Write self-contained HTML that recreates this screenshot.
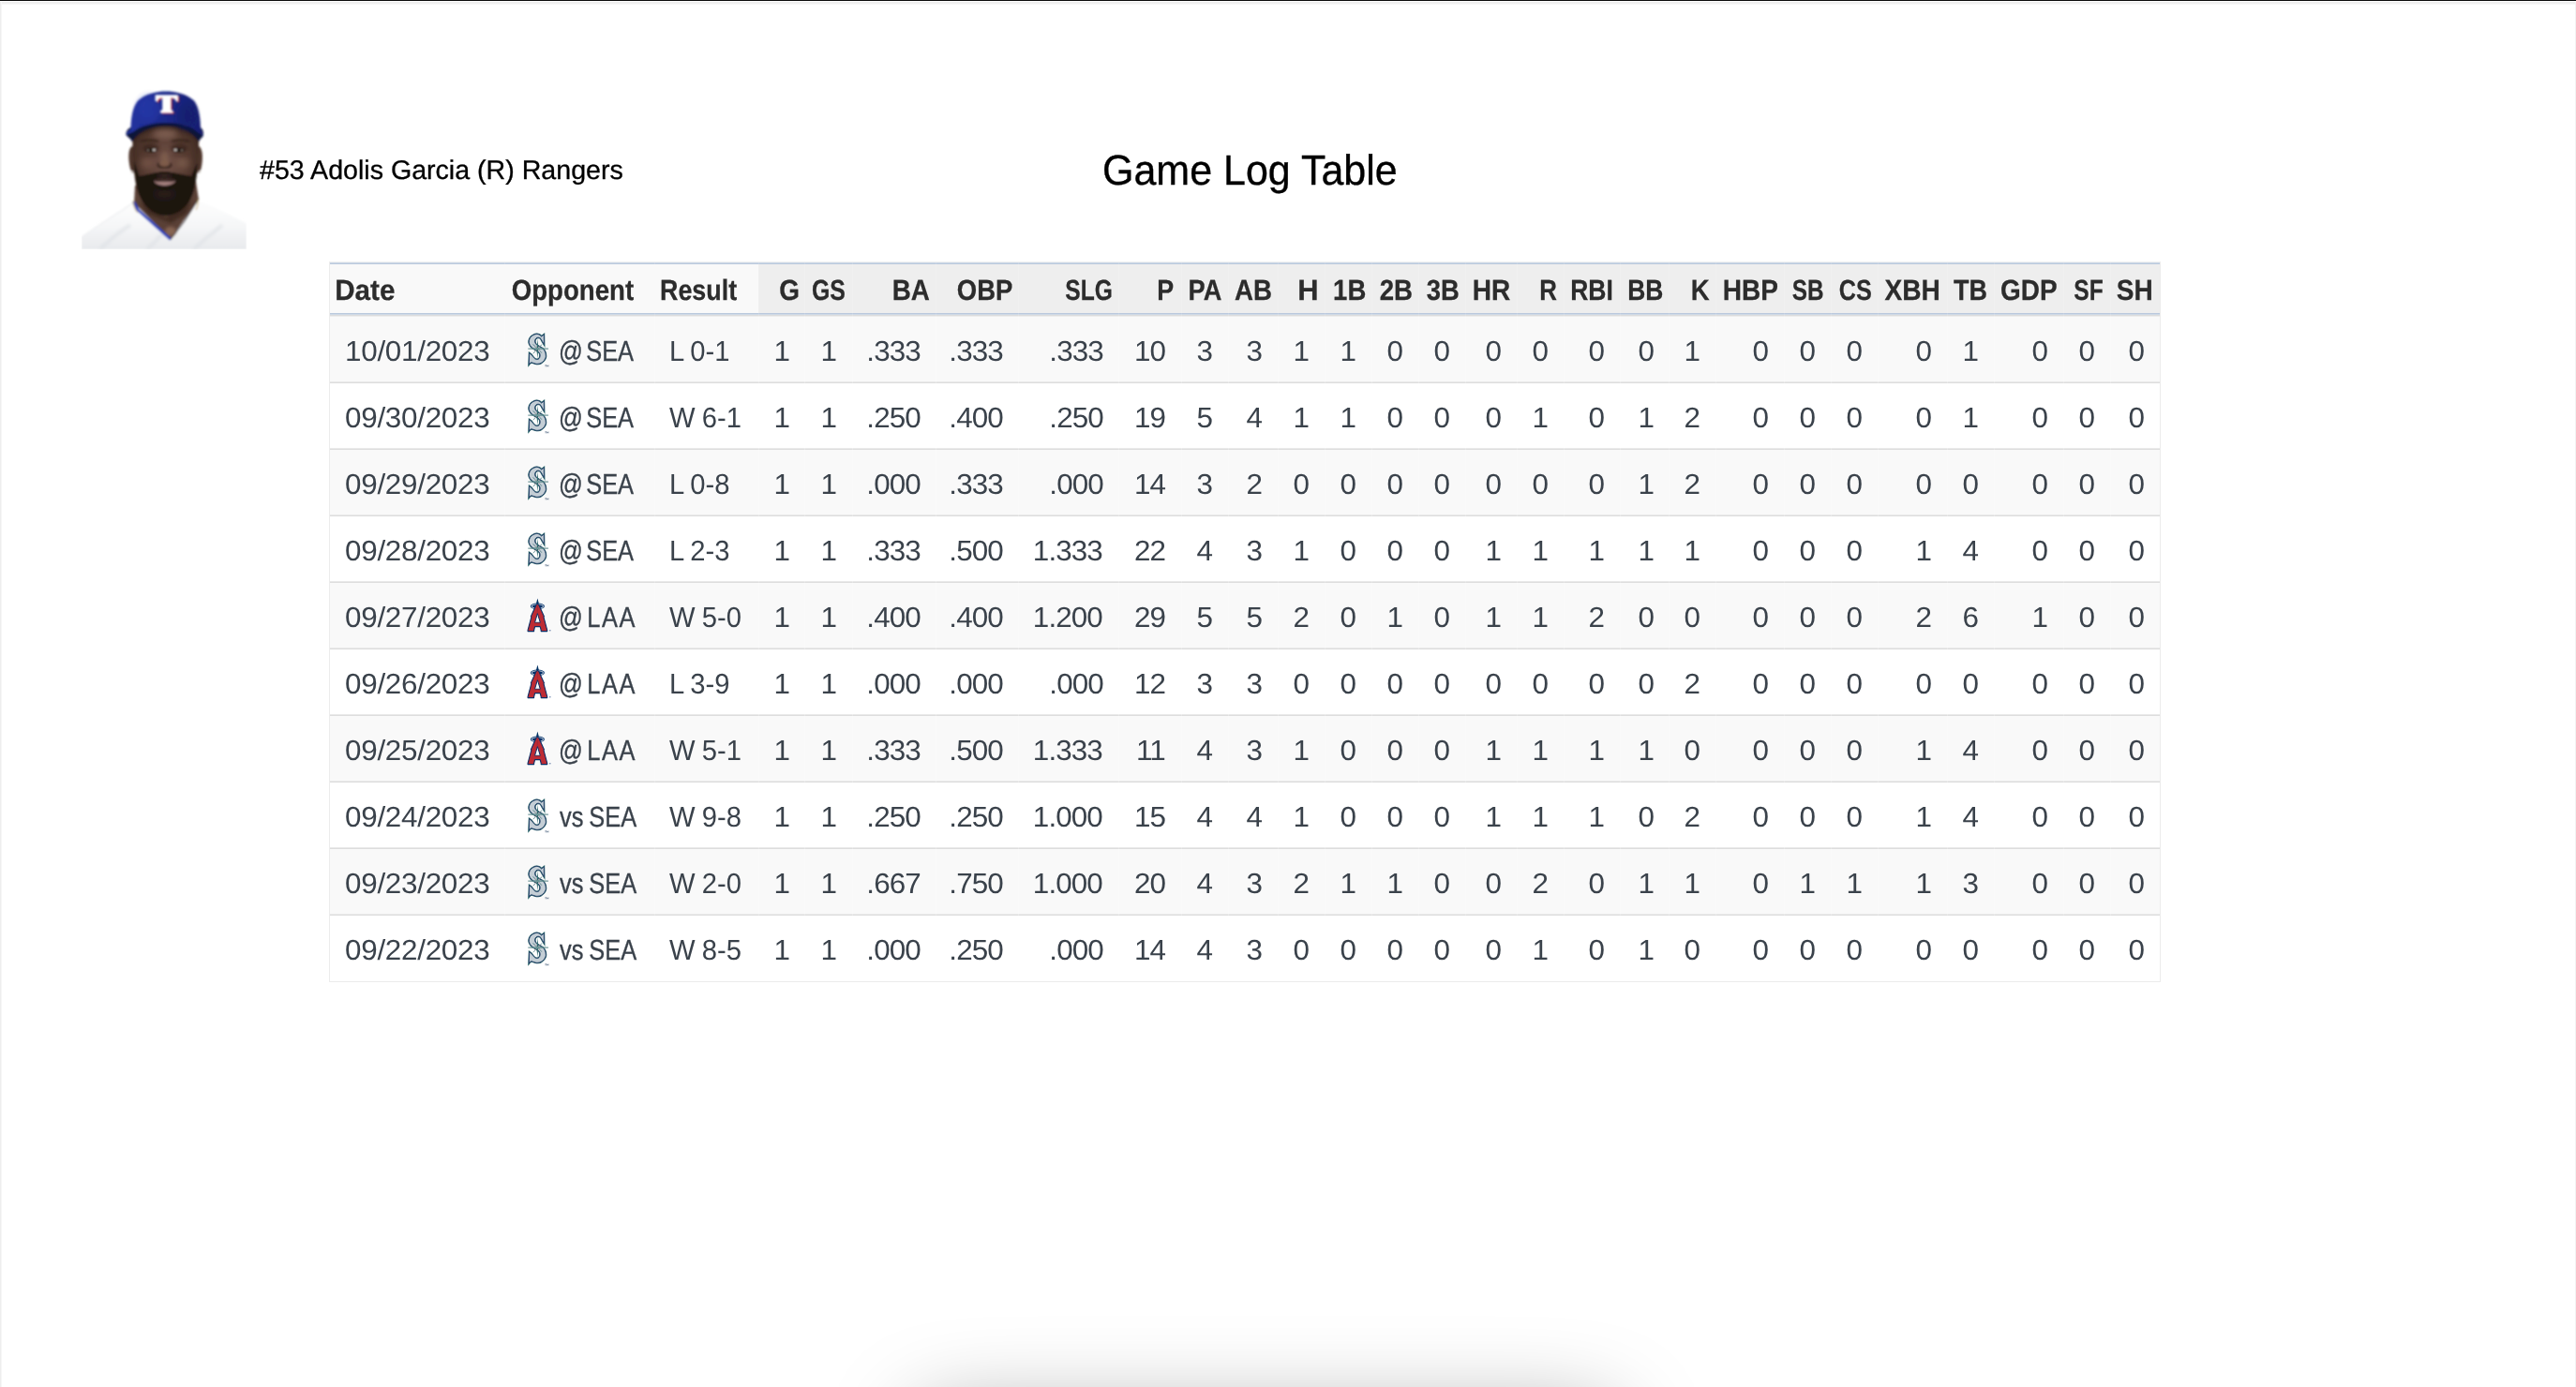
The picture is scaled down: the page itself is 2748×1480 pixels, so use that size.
<!DOCTYPE html>
<html lang="en">
<head>
<meta charset="utf-8">
<title>Game Log Table</title>
<style>
html,body{margin:0;padding:0;background:#fff;}
body{will-change:transform;text-rendering:geometricPrecision;width:2748px;height:1480px;position:relative;overflow:hidden;font-family:"Liberation Sans",sans-serif;}
.topbar{position:absolute;left:0;top:0;width:2748px;height:1px;background:#0b0b0b;}
.topgray{position:absolute;left:0;top:2px;width:2748px;height:3px;background:linear-gradient(#eeeeee,#f1f1f1 60%,#fafafa);}
.leftgray{position:absolute;left:0;top:2px;width:2px;height:1478px;background:linear-gradient(90deg,#eeeeee 0,#eeeeee 1px,#f6f6f6 1px,#f6f6f6 2px);}
.rightgray{position:absolute;left:2747px;top:2px;width:1px;height:1478px;background:#f2f2f2;}
.photo{position:absolute;left:87px;top:90px;width:176px;height:176px;}
.player{-webkit-text-stroke:0.3px #000;position:absolute;left:277px;top:164.5px;font-size:28.6px;line-height:34px;color:#000;white-space:nowrap;}
.title{-webkit-text-stroke:0.35px #000;position:absolute;left:1176px;top:157px;margin:0;font-size:43px;line-height:52px;transform:scaleY(1.05);transform-origin:left 40px;font-weight:normal;color:#000;white-space:nowrap;}
.tablewrap{position:absolute;left:351px;top:279px;width:1952px;border:1px solid #ececec;border-top-color:#f0f0f0;}
table.log{border-collapse:separate;border-spacing:0;table-layout:fixed;width:1952px;}
.log th,.log td{padding:0;margin:0;white-space:nowrap;overflow:visible;box-sizing:border-box;border-left:1px solid rgba(255,255,255,.22);}
.log th:first-child,.log td:first-child{border-left:0;}
.log th{-webkit-text-stroke:0.25px #2c2c2c;border-left-color:rgba(255,255,255,.12);height:58px;font-size:30.8px;font-weight:bold;color:#2c2c2c;vertical-align:top;
 background:linear-gradient(#ccd7e6 0,#ccd7e6 1px,#bac9dd 1px,#bac9dd 2px,#eeeeee 2px,#eeeeee 54px,#bac9dd 54px,#bac9dd 55px,#ced9e6 55px,#ced9e6 56px,#dcdcdc 56px,#dcdcdc 57px,#ececec 57px,#ececec 58px);}
.log th.l{text-align:left;padding-left:6px;
 background:linear-gradient(#ccd7e6 0,#ccd7e6 1px,#bac9dd 1px,#bac9dd 2px,#f9f9f9 2px,#f9f9f9 54px,#bac9dd 54px,#bac9dd 55px,#ced9e6 55px,#ced9e6 56px,#dcdcdc 56px,#dcdcdc 57px,#ececec 57px,#ececec 58px);}
.log th.n{text-align:right;padding-right:7px;}
.log th span{display:inline-block;line-height:34px;margin-top:13px;transform-origin:right center;}
.log th.l span{transform-origin:left center;}
.log td{height:71px;font-size:30.5px;color:#3a424b;vertical-align:top;
 background:linear-gradient(#f9f9f9 0,#f9f9f9 69px,#e9e9e9 69px,#e9e9e9 70px,#dddddd 70px,#dddddd 71px);}
.log tr:nth-child(even) td{background:linear-gradient(#ffffff 0,#ffffff 69px,#e9e9e9 69px,#e9e9e9 70px,#dddddd 70px,#dddddd 71px);}
.log tr:last-child td{height:70px;background:#ffffff;}
.log td span{display:inline-block;line-height:34px;margin-top:20px;transform:scaleX(1.03);transform-origin:right center;}
.log td.n{text-align:right;padding-right:16.7px;letter-spacing:-0.9px;}
.log td.date{padding-left:16px;letter-spacing:-0.27px;}
.log td.date span{transform-origin:left center;}
.log td.res{padding-left:15px;word-spacing:-1px;}
.log td.res span{transform:scaleX(0.957);transform-origin:left center;}
.log td.opp{padding-left:14px;position:relative;}
.log td.opp .lg{position:absolute;left:15.8px;top:12px;}
.log td.opp span{-webkit-text-stroke:0.35px #3a424b;margin-left:43px;transform:scaleX(0.833);transform-origin:left center;word-spacing:-4.4px;}
.log td.opp.vs span{word-spacing:-1.4px;margin-left:43.5px;}
.log td.opp.laa span{letter-spacing:2.0px;word-spacing:-7.2px;}
.shadow{position:absolute;left:978px;top:1508px;width:746px;height:120px;border-radius:30px;box-shadow:0 0 94px 0 rgba(0,0,0,.36);}
</style>
</head>
<body>
<svg width="0" height="0" style="position:absolute"><defs>
<g id="lgS"><g transform="translate(0.55 1.49) scale(0.924)">
<path d="M26.7 6.0L23.9 8.2C23.50 7.87 22.38 6.68 21.50 6.20C20.62 5.72 19.77 5.25 18.60 5.30C17.43 5.35 15.77 5.80 14.50 6.50C13.23 7.20 11.83 8.37 11.00 9.50C10.17 10.63 9.68 12.08 9.50 13.30C9.32 14.52 9.52 15.72 9.90 16.80C10.28 17.88 10.98 18.90 11.80 19.80C12.62 20.70 13.67 21.42 14.80 22.20C15.93 22.98 17.52 23.73 18.60 24.50C19.68 25.27 20.68 25.97 21.30 26.80C21.92 27.63 22.22 28.55 22.30 29.50C22.38 30.45 22.13 31.70 21.80 32.50C21.47 33.30 20.87 33.93 20.30 34.30C19.73 34.67 19.08 34.78 18.40 34.70C17.72 34.62 16.93 34.33 16.20 33.80C15.47 33.27 14.70 32.30 14.00 31.50C13.30 30.70 12.68 29.67 12.00 29.00C11.32 28.33 10.29 27.75 9.95 27.50L9.45 40.6C9.79 40.22 10.74 38.63 11.50 38.30C12.26 37.97 13.08 38.38 14.00 38.60C14.92 38.82 16.02 39.40 17.00 39.60C17.98 39.80 18.82 39.93 19.90 39.80C20.98 39.67 22.35 39.43 23.50 38.80C24.65 38.17 25.93 37.05 26.80 36.00C27.67 34.95 28.35 33.52 28.70 32.50C29.05 31.48 28.97 30.90 28.90 29.90C28.83 28.90 28.65 27.52 28.30 26.50C27.95 25.48 27.37 24.58 26.80 23.80C26.23 23.02 25.78 22.45 24.90 21.80C24.02 21.15 22.55 20.53 21.50 19.90C20.45 19.27 19.38 18.68 18.60 18.00C17.82 17.32 17.18 16.53 16.80 15.80C16.42 15.07 16.27 14.37 16.30 13.60C16.33 12.83 16.57 11.87 17.00 11.20C17.43 10.53 18.18 9.87 18.90 9.60C19.62 9.33 20.58 9.38 21.30 9.60C22.02 9.82 22.62 10.20 23.20 10.90C23.78 11.60 24.18 12.75 24.80 13.80C25.42 14.85 26.55 16.63 26.90 17.20Z" fill="#c4ced5" stroke="#1d5a60" stroke-width="2.1" stroke-linejoin="miter"/>
<path d="M26.7 6.0L23.9 8.2C23.50 7.87 22.38 6.68 21.50 6.20C20.62 5.72 19.77 5.25 18.60 5.30C17.43 5.35 15.77 5.80 14.50 6.50C13.23 7.20 11.83 8.37 11.00 9.50C10.17 10.63 9.68 12.08 9.50 13.30C9.32 14.52 9.52 15.72 9.90 16.80C10.28 17.88 10.98 18.90 11.80 19.80C12.62 20.70 13.67 21.42 14.80 22.20C15.93 22.98 17.52 23.73 18.60 24.50C19.68 25.27 20.68 25.97 21.30 26.80C21.92 27.63 22.22 28.55 22.30 29.50C22.38 30.45 22.13 31.70 21.80 32.50C21.47 33.30 20.87 33.93 20.30 34.30C19.73 34.67 19.08 34.78 18.40 34.70C17.72 34.62 16.93 34.33 16.20 33.80C15.47 33.27 14.70 32.30 14.00 31.50C13.30 30.70 12.68 29.67 12.00 29.00C11.32 28.33 10.29 27.75 9.95 27.50L9.45 40.6C9.79 40.22 10.74 38.63 11.50 38.30C12.26 37.97 13.08 38.38 14.00 38.60C14.92 38.82 16.02 39.40 17.00 39.60C17.98 39.80 18.82 39.93 19.90 39.80C20.98 39.67 22.35 39.43 23.50 38.80C24.65 38.17 25.93 37.05 26.80 36.00C27.67 34.95 28.35 33.52 28.70 32.50C29.05 31.48 28.97 30.90 28.90 29.90C28.83 28.90 28.65 27.52 28.30 26.50C27.95 25.48 27.37 24.58 26.80 23.80C26.23 23.02 25.78 22.45 24.90 21.80C24.02 21.15 22.55 20.53 21.50 19.90C20.45 19.27 19.38 18.68 18.60 18.00C17.82 17.32 17.18 16.53 16.80 15.80C16.42 15.07 16.27 14.37 16.30 13.60C16.33 12.83 16.57 11.87 17.00 11.20C17.43 10.53 18.18 9.87 18.90 9.60C19.62 9.33 20.58 9.38 21.30 9.60C22.02 9.82 22.62 10.20 23.20 10.90C23.78 11.60 24.18 12.75 24.80 13.80C25.42 14.85 26.55 16.63 26.90 17.20Z" fill="#c4ced5" stroke="#27406b" stroke-width="1.0" stroke-linejoin="miter"/>
<path d="M8.4 22.3H31.9" stroke="#3b6f72" stroke-width="0.9" fill="none"/>
<path d="M19.3 10.8L20.3 21.4L19.3 33.6L18.3 23.2Z" fill="#2f6a6c"/>
<path d="M19.3 22.3L14.2 17.2L18.2 21.8ZM19.3 22.3L24.4 17.4L20.3 21.6ZM19.3 22.3L14.4 27.8L18.4 23.2ZM19.3 22.3L24.2 27.2L20.4 23Z" fill="#4a7c80" stroke="#4a7c80" stroke-width="0.5"/>
<path d="M9.5 22.3L19.3 21.4L31 22.3L19.3 23.2Z" fill="#6f9a9a"/>
<path d="M16.6 19.6l1.2 1.2M22 19.6l-1.2 1.2M16.6 25.2l1.2-1.2M22 25.2l-1.2-1.2" stroke="#f2b9b9" stroke-width="0.9"/></g>
<path d="M26.4 39.7h1.5M27.15 39.7v1.7M28.4 41.4v-1.7l0.8 1.1l0.8-1.1v1.7" stroke="#2f4a6a" stroke-width="0.45" fill="none"/>
</g>
<g id="lgA"><g transform="translate(-2 0)">
<path d="M20.4 4.6L21.9 10.2H18.9Z" fill="#003263"/>
<ellipse cx="20.4" cy="12.9" rx="7.5" ry="3.3" fill="#00306a"/>
<ellipse cx="20.4" cy="12.9" rx="6.0" ry="2.15" fill="none" stroke="#b4c0cf" stroke-width="1.1"/>
<path d="M20.4 10.4L21.7 11.2L27.4 23.7L27.0 24.6L30.7 38.3V39.6H24.2V38.5L23.2 34.6H17.6L16.6 38.5V39.6H10.1V38.3L13.8 24.6L13.4 23.7L19.1 11.2Z" fill="#bd2b34" stroke="#0b2f66" stroke-width="1.1" stroke-linejoin="round"/>
<path d="M20.4 20.6L23.3 30.3H17.5Z" fill="#f9f9f9" stroke="#0b2f66" stroke-width="1.0" stroke-linejoin="round"/>
<path d="M20.4 12.5V19.5M17.2 30.9H23.6" stroke="#9e2a35" stroke-width="0.8" fill="none"/>
<circle cx="33.8" cy="38.7" r="0.75" fill="#5d77a3"/>
</g></g>
</defs></svg>
<div class="topbar"></div><div class="topgray"></div><div class="leftgray"></div><div class="rightgray"></div>
<div class="photo"><svg width="176" height="176" viewBox="0 0 176 176">
<defs>
<linearGradient id="capg" x1="0" y1="0" x2="1" y2="0"><stop offset="0" stop-color="#2334a2"/><stop offset=".45" stop-color="#1d2a8d"/><stop offset="1" stop-color="#171f72"/></linearGradient>
<radialGradient id="faceg" cx=".5" cy=".42" r=".62"><stop offset="0" stop-color="#73534a"/><stop offset=".55" stop-color="#553a30"/><stop offset="1" stop-color="#36241d"/></radialGradient>
<linearGradient id="jerg" x1="0" y1="0" x2="0" y2="1"><stop offset="0" stop-color="#fdfdfd"/><stop offset=".5" stop-color="#f6f7f8"/><stop offset="1" stop-color="#e8eaed"/></linearGradient>
<filter id="b1" x="-10%" y="-10%" width="120%" height="120%"><feGaussianBlur stdDeviation="0.85"/></filter>
<filter id="b2" x="-20%" y="-20%" width="140%" height="140%"><feGaussianBlur stdDeviation="1.6"/></filter>
<filter id="b3" x="-30%" y="-30%" width="160%" height="160%"><feGaussianBlur stdDeviation="3"/></filter>
<clipPath id="pc"><rect x="0" y="0" width="176" height="176"/></clipPath>
</defs>
<g clip-path="url(#pc)">
<g filter="url(#b1)">
<!-- jersey -->
<path d="M0 163C18 150 38 138 55.5 126L62 131L95 165L124 124C140 130 160 140 176 148.500V176H0Z" fill="url(#jerg)"/>
<path d="M0 163C18 150 38 138 55.5 126" stroke="#eeeff1" stroke-width="1.2" fill="none"/>
<path d="M20 176C30 165 40 158 52 150M120 176C130 165 142 158 150 150M70 176L86 160" stroke="#dfe2e6" stroke-width="3" fill="none" filter="url(#b2)"/>
<!-- neck -->
<path d="M57 108L56 127L95 165L125 123L122 104Z" fill="#5a4036"/>
<path d="M62 124L90 142L118 124L112 138L95 148L70 138Z" fill="#3a261e" opacity=".8" filter="url(#b2)"/><ellipse cx="95" cy="157" rx="6" ry="5" fill="#9a7460" opacity=".7" filter="url(#b2)"/>
<!-- piping -->
<path d="M55.5 125.500L60 134L95 165.500" stroke="#2340c0" stroke-width="2.8" fill="none" stroke-linejoin="round"/>
<path d="M55 124C55.500 130 57 134 60 137" stroke="#b89a55" stroke-width="1" fill="none"/>
<path d="M95 165.500L110 146L125 122" stroke="#3a3238" stroke-width="1.1" fill="none"/>
<path d="M124 122C124.500 128 123.500 131 122 134" stroke="#b89a55" stroke-width="0.9" fill="none"/>
<!-- ears -->
<path d="M54 66C49.500 68 49.500 80 52 90C53.500 95 56 96 57.500 93V68Z" fill="#4e352b"/>
<path d="M125 66C129.500 68 129.800 80 127.500 90C126 95 123.500 96 122 93V68Z" fill="#4e352b"/>
<circle cx="53.800" cy="93.500" r="1.2" fill="#d9d2cc"/><circle cx="126" cy="93.500" r="1.2" fill="#d9d2cc"/>
<!-- face -->
<path d="M54.500 50C54 70 55 92 58.500 110C63 128 76 139 89 139C102 139 116 128 120.500 110C124 92 125.500 70 125 50C108 40 72 40 54.500 50Z" fill="url(#faceg)"/>
<!-- forehead shadow under brim -->
<path d="M53 47C66 38 112 38 126 47L125.500 60C112 44 68 44 54 60Z" fill="#2a1c18" opacity=".6" filter="url(#b2)"/>
<!-- cheeks highlight -->
<ellipse cx="70" cy="84" rx="7" ry="6" fill="#7a594c" opacity=".7" filter="url(#b3)"/>
<ellipse cx="108" cy="84" rx="7" ry="6" fill="#80604f" opacity=".7" filter="url(#b3)"/>
<ellipse cx="89" cy="53" rx="13" ry="5" fill="#8a6a5c" opacity=".75" filter="url(#b3)"/>
<ellipse cx="88.500" cy="80" rx="4" ry="8" fill="#85634f" opacity=".6" filter="url(#b2)"/>
<ellipse cx="74" cy="68" rx="9" ry="5" fill="#2e1f19" opacity=".55" filter="url(#b2)"/><ellipse cx="104" cy="68" rx="9" ry="5" fill="#2e1f19" opacity=".55" filter="url(#b2)"/>
<!-- brows -->
<path d="M64 61.500C69 58.500 76 58.500 81 61M97 61C102 58.500 109 58.500 114 61.500" stroke="#2a1b15" stroke-width="2.6" fill="none" stroke-linecap="round" opacity=".75" filter="url(#b1)"/>
<!-- eyes -->
<path d="M67.500 70.500C71 67 77 67 80.500 70.500C77 73 71 73 67.500 70.500Z" fill="#1d1410"/>
<path d="M97.500 70.500C101 67 107 67 110.500 70.500C107 73 101 73 97.500 70.500Z" fill="#1d1410"/>
<ellipse cx="77.300" cy="70" rx="1.8" ry="1.1" fill="#e3dcd8"/><ellipse cx="71" cy="70.300" rx="1.1" ry="0.8" fill="#a8978f"/>
<ellipse cx="100.200" cy="70" rx="1.8" ry="1.1" fill="#e3dcd8"/><ellipse cx="107" cy="70.300" rx="1.1" ry="0.8" fill="#a8978f"/>
<path d="M66 75C70 77.500 77 77.500 81 75M97 75C101 77.500 108 77.500 112 75" stroke="#3a2720" stroke-width="2" fill="none" opacity=".4" filter="url(#b2)"/>
<!-- nose -->
<path d="M80 86C81.500 82 84 83.500 88.500 86.500C93 83.500 95.500 82 97 86C96 90 92 90.500 88.500 90C85 90.500 81 90 80 86Z" fill="#3e2a22" opacity=".85"/>
<ellipse cx="88.500" cy="84.500" rx="5.500" ry="3.200" fill="#7e5c4a" opacity=".9"/>
<!-- beard -->
<path d="M56 82C56.500 96 58.500 112 63.500 122C69 133 79 140 90 140C101 140 111 133 116.500 122C121.500 112 123 98 123.500 84C121 88 119.500 93 117 98C110 97 102 95.500 96 94C92 92.500 85 92.500 81 94C75 95.500 67 97 61.500 98C59.500 93 58 87 56 82Z" fill="#1b1310"/>
<path d="M62 98C69 96.500 79 93.500 88.500 93.200C98 93.500 108 96.500 116.500 98C117 104 108 103 101 100.500C95 99 83 99 77 100.500C70 103 61 104 62 98Z" fill="#1d1411"/>
<ellipse cx="88.500" cy="97.300" rx="8" ry="1.600" fill="#46312a" opacity=".8" filter="url(#b2)"/>
<!-- lips -->
<path d="M76.500 101.800C80 100 85 99.600 88.500 100.500C92 99.600 97 100 100.800 101.800C97 103.200 93 103.600 88.500 103.500C84 103.600 80 103.200 76.500 101.800Z" fill="#3a2723"/>
<path d="M77 103C80 109.500 97 109.500 100.500 103C96 104.500 81 104.500 77 103Z" fill="#9a7775"/>
<ellipse cx="88.500" cy="105.500" rx="6" ry="1.800" fill="#b08c8a" opacity=".7" filter="url(#b2)"/>
<path d="M81 110.500C85 112.300 92 112.300 96 110.500" stroke="#130d0b" stroke-width="2.400" fill="none" opacity=".9"/>
<ellipse cx="88.500" cy="117" rx="11" ry="4.500" fill="#3a2922" opacity=".55" filter="url(#b3)"/>
<!-- cap brim underside -->
<path d="M47.500 54C47 50 50 47 53 45.500C66 37.500 113 37.500 126.500 46C129.500 47.500 130.500 51 129.500 55.500C128 57.500 125.500 58.500 125 61.500C113 38.800 66 38.800 54 61.500C53.500 58.500 50 57 47.500 54Z" fill="#0e1338"/>
<!-- cap crown -->
<path d="M52.500 48.500C52.500 36 54.500 24 60 17.500C68 10 80 7.500 90 7.500C100 7.500 112 10 120 17.500C125 24 127 36 127 48.500C128.500 50 129.500 52 129.500 55.500C127.500 53.500 125.500 52 123 50.500C110 37.800 70 37.800 55.500 50.500C52.500 51.500 50 52.500 47.500 54C47.500 51.500 50 49.500 52.500 48.500Z" fill="url(#capg)"/>

<ellipse cx="72" cy="26" rx="12" ry="14" fill="#2a3db4" opacity=".45" filter="url(#b3)"/>
<ellipse cx="112" cy="34" rx="10" ry="14" fill="#141c66" opacity=".5" filter="url(#b3)"/>
</g>
<!-- T logo -->
<g filter="url(#b1)">
<path d="M80.200 12.600H104.200V19L102 19.500C101.500 16.500 100 15.500 96.600 15.500V27.500C96.600 28.700 97.500 29 98.800 29.200V31.600H85.500V29.200C86.800 29 87.700 28.700 87.700 27.500V15.500C84.300 15.500 82.800 16.500 82.300 19.500L80.200 19Z" fill="#c8202f"/>
<path d="M78.600 11.200H102.800V17.800L100.600 18.200C100.100 15.200 98.600 14.200 95.200 14.200V26.300C95.200 27.500 96.100 27.800 97.400 28V30.400H84V28C85.300 27.800 86.200 27.500 86.200 26.300V14.200C82.800 14.200 81.300 15.200 80.800 18.200L78.600 17.800Z" fill="#ffffff"/>
</g>
</g>
</svg>
</div>
<div class="player">#53 Adolis Garcia (R) Rangers</div>
<h1 class="title">Game Log Table</h1>
<div class="tablewrap">
<table class="log">
<colgroup>
<col style="width:186.2px"><col style="width:159.3px"><col style="width:111.4px"><col style="width:49.5px"><col style="width:50.2px"><col style="width:89.8px"><col style="width:88.1px"><col style="width:106.5px"><col style="width:66.6px"><col style="width:50.3px"><col style="width:53.3px"><col style="width:50.0px"><col style="width:49.8px"><col style="width:50.1px"><col style="width:50.2px"><col style="width:54.4px"><col style="width:50.4px"><col style="width:60.2px"><col style="width:52.1px"><col style="width:49.9px"><col style="width:72.6px"><col style="width:49.9px"><col style="width:50.1px"><col style="width:73.9px"><col style="width:50.5px"><col style="width:73.5px"><col style="width:50.5px"><col style="width:52.7px">
</colgroup>
<thead>
<tr><th class="l"><span style="transform:translateX(-0.80px) scaleX(0.9616)">Date</span></th><th class="l"><span style="transform:translateX(0.70px) scaleX(0.8975)">Opponent</span></th><th class="l"><span style="transform:translateX(-1.00px) scaleX(0.8731)">Result</span></th><th class="n"><span style="transform:translateX(2.00px) scaleX(0.9078)">G</span></th><th class="n"><span style="transform:translateX(-1.70px) scaleX(0.8065)">GS</span></th><th class="n"><span style="transform:translateX(0.40px) scaleX(0.9030)">BA</span></th><th class="n"><span style="transform:translateX(0.60px) scaleX(0.8922)">OBP</span></th><th class="n"><span style="transform:translateX(0.60px) scaleX(0.7988)">SLG</span></th><th class="n"><span style="transform:translateX(-0.30px) scaleX(0.8715)">P</span></th><th class="n"><span style="transform:translateX(0.80px) scaleX(0.8835)">PA</span></th><th class="n"><span style="transform:translateX(0.40px) scaleX(0.8982)">AB</span></th><th class="n"><span style="transform:translateX(0.30px) scaleX(1.0051)">H</span></th><th class="n"><span style="transform:translateX(0.90px) scaleX(0.8933)">1B</span></th><th class="n"><span style="transform:translateX(0.60px) scaleX(0.8976)">2B</span></th><th class="n"><span style="transform:translateX(0.50px) scaleX(0.8896)">3B</span></th><th class="n"><span style="transform:translateX(0.80px) scaleX(0.9102)">HR</span></th><th class="n"><span style="transform:translateX(-0.20px) scaleX(0.8398)">R</span></th><th class="n"><span style="transform:translateX(-1.20px) scaleX(0.8600)">RBI</span></th><th class="n"><span style="transform:translateX(0.80px) scaleX(0.8575)">BB</span></th><th class="n"><span style="transform:translateX(0.50px) scaleX(0.8954)">K</span></th><th class="n"><span style="transform:translateX(0.90px) scaleX(0.9103)">HBP</span></th><th class="n"><span style="transform:translateX(-1.20px) scaleX(0.7887)">SB</span></th><th class="n"><span style="transform:translateX(0.00px) scaleX(0.8182)">CS</span></th><th class="n"><span style="transform:translateX(-0.20px) scaleX(0.9132)">XBH</span></th><th class="n"><span style="transform:translateX(0.00px) scaleX(0.8752)">TB</span></th><th class="n"><span style="transform:translateX(-0.20px) scaleX(0.9076)">GDP</span></th><th class="n"><span style="transform:translateX(-0.60px) scaleX(0.7975)">SF</span></th><th class="n"><span style="transform:translateX(0.00px) scaleX(0.9106)">SH</span></th></tr>
</thead>
<tbody>
<tr><td class="date"><span>10/01/2023</span></td><td class="opp"><svg class="lg" width="40" height="46" viewBox="0 0 40 46"><use href="#lgS"/></svg><span>@ SEA</span></td><td class="res"><span>L 0-1</span></td><td class="n one"><span>1</span></td><td class="n one"><span>1</span></td><td class="n"><span>.333</span></td><td class="n"><span>.333</span></td><td class="n"><span>.333</span></td><td class="n"><span>10</span></td><td class="n"><span>3</span></td><td class="n"><span>3</span></td><td class="n one"><span>1</span></td><td class="n one"><span>1</span></td><td class="n"><span>0</span></td><td class="n"><span>0</span></td><td class="n"><span>0</span></td><td class="n"><span>0</span></td><td class="n"><span>0</span></td><td class="n"><span>0</span></td><td class="n one"><span>1</span></td><td class="n"><span>0</span></td><td class="n"><span>0</span></td><td class="n"><span>0</span></td><td class="n"><span>0</span></td><td class="n one"><span>1</span></td><td class="n"><span>0</span></td><td class="n"><span>0</span></td><td class="n"><span>0</span></td></tr>
<tr><td class="date"><span>09/30/2023</span></td><td class="opp"><svg class="lg" width="40" height="46" viewBox="0 0 40 46"><use href="#lgS"/></svg><span>@ SEA</span></td><td class="res"><span>W 6-1</span></td><td class="n one"><span>1</span></td><td class="n one"><span>1</span></td><td class="n"><span>.250</span></td><td class="n"><span>.400</span></td><td class="n"><span>.250</span></td><td class="n"><span>19</span></td><td class="n"><span>5</span></td><td class="n"><span>4</span></td><td class="n one"><span>1</span></td><td class="n one"><span>1</span></td><td class="n"><span>0</span></td><td class="n"><span>0</span></td><td class="n"><span>0</span></td><td class="n one"><span>1</span></td><td class="n"><span>0</span></td><td class="n one"><span>1</span></td><td class="n"><span>2</span></td><td class="n"><span>0</span></td><td class="n"><span>0</span></td><td class="n"><span>0</span></td><td class="n"><span>0</span></td><td class="n one"><span>1</span></td><td class="n"><span>0</span></td><td class="n"><span>0</span></td><td class="n"><span>0</span></td></tr>
<tr><td class="date"><span>09/29/2023</span></td><td class="opp"><svg class="lg" width="40" height="46" viewBox="0 0 40 46"><use href="#lgS"/></svg><span>@ SEA</span></td><td class="res"><span>L 0-8</span></td><td class="n one"><span>1</span></td><td class="n one"><span>1</span></td><td class="n"><span>.000</span></td><td class="n"><span>.333</span></td><td class="n"><span>.000</span></td><td class="n"><span>14</span></td><td class="n"><span>3</span></td><td class="n"><span>2</span></td><td class="n"><span>0</span></td><td class="n"><span>0</span></td><td class="n"><span>0</span></td><td class="n"><span>0</span></td><td class="n"><span>0</span></td><td class="n"><span>0</span></td><td class="n"><span>0</span></td><td class="n one"><span>1</span></td><td class="n"><span>2</span></td><td class="n"><span>0</span></td><td class="n"><span>0</span></td><td class="n"><span>0</span></td><td class="n"><span>0</span></td><td class="n"><span>0</span></td><td class="n"><span>0</span></td><td class="n"><span>0</span></td><td class="n"><span>0</span></td></tr>
<tr><td class="date"><span>09/28/2023</span></td><td class="opp"><svg class="lg" width="40" height="46" viewBox="0 0 40 46"><use href="#lgS"/></svg><span>@ SEA</span></td><td class="res"><span>L 2-3</span></td><td class="n one"><span>1</span></td><td class="n one"><span>1</span></td><td class="n"><span>.333</span></td><td class="n"><span>.500</span></td><td class="n"><span>1.333</span></td><td class="n"><span>22</span></td><td class="n"><span>4</span></td><td class="n"><span>3</span></td><td class="n one"><span>1</span></td><td class="n"><span>0</span></td><td class="n"><span>0</span></td><td class="n"><span>0</span></td><td class="n one"><span>1</span></td><td class="n one"><span>1</span></td><td class="n one"><span>1</span></td><td class="n one"><span>1</span></td><td class="n one"><span>1</span></td><td class="n"><span>0</span></td><td class="n"><span>0</span></td><td class="n"><span>0</span></td><td class="n one"><span>1</span></td><td class="n"><span>4</span></td><td class="n"><span>0</span></td><td class="n"><span>0</span></td><td class="n"><span>0</span></td></tr>
<tr><td class="date"><span>09/27/2023</span></td><td class="opp laa"><svg class="lg" width="40" height="46" viewBox="0 0 40 46"><use href="#lgA"/></svg><span>@ LAA</span></td><td class="res"><span>W 5-0</span></td><td class="n one"><span>1</span></td><td class="n one"><span>1</span></td><td class="n"><span>.400</span></td><td class="n"><span>.400</span></td><td class="n"><span>1.200</span></td><td class="n"><span>29</span></td><td class="n"><span>5</span></td><td class="n"><span>5</span></td><td class="n"><span>2</span></td><td class="n"><span>0</span></td><td class="n one"><span>1</span></td><td class="n"><span>0</span></td><td class="n one"><span>1</span></td><td class="n one"><span>1</span></td><td class="n"><span>2</span></td><td class="n"><span>0</span></td><td class="n"><span>0</span></td><td class="n"><span>0</span></td><td class="n"><span>0</span></td><td class="n"><span>0</span></td><td class="n"><span>2</span></td><td class="n"><span>6</span></td><td class="n one"><span>1</span></td><td class="n"><span>0</span></td><td class="n"><span>0</span></td></tr>
<tr><td class="date"><span>09/26/2023</span></td><td class="opp laa"><svg class="lg" width="40" height="46" viewBox="0 0 40 46"><use href="#lgA"/></svg><span>@ LAA</span></td><td class="res"><span>L 3-9</span></td><td class="n one"><span>1</span></td><td class="n one"><span>1</span></td><td class="n"><span>.000</span></td><td class="n"><span>.000</span></td><td class="n"><span>.000</span></td><td class="n"><span>12</span></td><td class="n"><span>3</span></td><td class="n"><span>3</span></td><td class="n"><span>0</span></td><td class="n"><span>0</span></td><td class="n"><span>0</span></td><td class="n"><span>0</span></td><td class="n"><span>0</span></td><td class="n"><span>0</span></td><td class="n"><span>0</span></td><td class="n"><span>0</span></td><td class="n"><span>2</span></td><td class="n"><span>0</span></td><td class="n"><span>0</span></td><td class="n"><span>0</span></td><td class="n"><span>0</span></td><td class="n"><span>0</span></td><td class="n"><span>0</span></td><td class="n"><span>0</span></td><td class="n"><span>0</span></td></tr>
<tr><td class="date"><span>09/25/2023</span></td><td class="opp laa"><svg class="lg" width="40" height="46" viewBox="0 0 40 46"><use href="#lgA"/></svg><span>@ LAA</span></td><td class="res"><span>W 5-1</span></td><td class="n one"><span>1</span></td><td class="n one"><span>1</span></td><td class="n"><span>.333</span></td><td class="n"><span>.500</span></td><td class="n"><span>1.333</span></td><td class="n"><span>11</span></td><td class="n"><span>4</span></td><td class="n"><span>3</span></td><td class="n one"><span>1</span></td><td class="n"><span>0</span></td><td class="n"><span>0</span></td><td class="n"><span>0</span></td><td class="n one"><span>1</span></td><td class="n one"><span>1</span></td><td class="n one"><span>1</span></td><td class="n one"><span>1</span></td><td class="n"><span>0</span></td><td class="n"><span>0</span></td><td class="n"><span>0</span></td><td class="n"><span>0</span></td><td class="n one"><span>1</span></td><td class="n"><span>4</span></td><td class="n"><span>0</span></td><td class="n"><span>0</span></td><td class="n"><span>0</span></td></tr>
<tr><td class="date"><span>09/24/2023</span></td><td class="opp vs"><svg class="lg" width="40" height="46" viewBox="0 0 40 46"><use href="#lgS"/></svg><span>vs SEA</span></td><td class="res"><span>W 9-8</span></td><td class="n one"><span>1</span></td><td class="n one"><span>1</span></td><td class="n"><span>.250</span></td><td class="n"><span>.250</span></td><td class="n"><span>1.000</span></td><td class="n"><span>15</span></td><td class="n"><span>4</span></td><td class="n"><span>4</span></td><td class="n one"><span>1</span></td><td class="n"><span>0</span></td><td class="n"><span>0</span></td><td class="n"><span>0</span></td><td class="n one"><span>1</span></td><td class="n one"><span>1</span></td><td class="n one"><span>1</span></td><td class="n"><span>0</span></td><td class="n"><span>2</span></td><td class="n"><span>0</span></td><td class="n"><span>0</span></td><td class="n"><span>0</span></td><td class="n one"><span>1</span></td><td class="n"><span>4</span></td><td class="n"><span>0</span></td><td class="n"><span>0</span></td><td class="n"><span>0</span></td></tr>
<tr><td class="date"><span>09/23/2023</span></td><td class="opp vs"><svg class="lg" width="40" height="46" viewBox="0 0 40 46"><use href="#lgS"/></svg><span>vs SEA</span></td><td class="res"><span>W 2-0</span></td><td class="n one"><span>1</span></td><td class="n one"><span>1</span></td><td class="n"><span>.667</span></td><td class="n"><span>.750</span></td><td class="n"><span>1.000</span></td><td class="n"><span>20</span></td><td class="n"><span>4</span></td><td class="n"><span>3</span></td><td class="n"><span>2</span></td><td class="n one"><span>1</span></td><td class="n one"><span>1</span></td><td class="n"><span>0</span></td><td class="n"><span>0</span></td><td class="n"><span>2</span></td><td class="n"><span>0</span></td><td class="n one"><span>1</span></td><td class="n one"><span>1</span></td><td class="n"><span>0</span></td><td class="n one"><span>1</span></td><td class="n one"><span>1</span></td><td class="n one"><span>1</span></td><td class="n"><span>3</span></td><td class="n"><span>0</span></td><td class="n"><span>0</span></td><td class="n"><span>0</span></td></tr>
<tr><td class="date"><span>09/22/2023</span></td><td class="opp vs"><svg class="lg" width="40" height="46" viewBox="0 0 40 46"><use href="#lgS"/></svg><span>vs SEA</span></td><td class="res"><span>W 8-5</span></td><td class="n one"><span>1</span></td><td class="n one"><span>1</span></td><td class="n"><span>.000</span></td><td class="n"><span>.250</span></td><td class="n"><span>.000</span></td><td class="n"><span>14</span></td><td class="n"><span>4</span></td><td class="n"><span>3</span></td><td class="n"><span>0</span></td><td class="n"><span>0</span></td><td class="n"><span>0</span></td><td class="n"><span>0</span></td><td class="n"><span>0</span></td><td class="n one"><span>1</span></td><td class="n"><span>0</span></td><td class="n one"><span>1</span></td><td class="n"><span>0</span></td><td class="n"><span>0</span></td><td class="n"><span>0</span></td><td class="n"><span>0</span></td><td class="n"><span>0</span></td><td class="n"><span>0</span></td><td class="n"><span>0</span></td><td class="n"><span>0</span></td><td class="n"><span>0</span></td></tr>
</tbody>
</table>
</div>
<div class="shadow"></div>
</body>
</html>
